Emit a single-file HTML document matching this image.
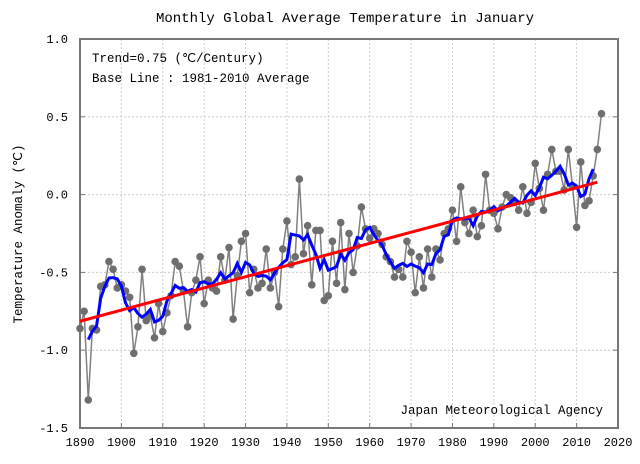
<!DOCTYPE html>
<html><head><meta charset="utf-8"><style>
body{margin:0;background:#fff;}
svg text{font-family:"Liberation Mono","DejaVu Sans Mono",monospace;fill:#000;}
</style></head><body>
<svg width="640" height="459">
<text x="345" y="22" text-anchor="middle" font-size="14">Monthly Global Average Temperature in January</text>
<g id="grid"></g>
<rect x="80" y="39" width="538" height="389" fill="none" stroke="#777" stroke-width="2"/>
<g id="axes"></g>
<g id="series"></g>
<text x="92" y="62" font-size="12.5">Trend=0.75 (℃/Century)</text>
<text x="92" y="82" font-size="12.5">Base Line : 1981-2010 Average</text>
<text x="603" y="414" text-anchor="end" font-size="12.5">Japan Meteorological Agency</text>
<text transform="translate(22,234) rotate(-90)" text-anchor="middle" font-size="12.5" font-family="Liberation Sans, sans-serif">Temperature Anomaly (℃)</text>
</svg>
<script>
const startYear = 1890;
const anomalies = [-0.86,-0.75,-1.32,-0.86,-0.87,-0.59,-0.58,-0.43,-0.48,-0.60,-0.58,-0.62,-0.66,-1.02,-0.85,-0.48,-0.81,-0.78,-0.92,-0.70,-0.88,-0.76,-0.65,-0.43,-0.46,-0.62,-0.85,-0.63,-0.55,-0.40,-0.70,-0.55,-0.60,-0.62,-0.40,-0.55,-0.34,-0.80,-0.52,-0.30,-0.25,-0.63,-0.48,-0.60,-0.57,-0.35,-0.60,-0.50,-0.72,-0.35,-0.17,-0.45,-0.40,0.10,-0.38,-0.20,-0.58,-0.23,-0.23,-0.68,-0.65,-0.30,-0.57,-0.18,-0.61,-0.25,-0.50,-0.33,-0.08,-0.22,-0.28,-0.22,-0.25,-0.32,-0.40,-0.43,-0.53,-0.48,-0.53,-0.30,-0.37,-0.63,-0.40,-0.60,-0.35,-0.53,-0.35,-0.42,-0.25,-0.22,-0.10,-0.30,0.05,-0.18,-0.25,-0.10,-0.27,-0.20,0.13,-0.10,-0.12,-0.22,-0.08,0.00,-0.02,-0.05,-0.10,0.05,-0.12,-0.05,0.20,0.04,-0.10,0.13,0.29,0.15,0.15,0.03,0.29,0.05,-0.21,0.21,-0.07,-0.04,0.12,0.29,0.52];
const xTicks = [1890,1900,1910,1920,1930,1940,1950,1960,1970,1980,1990,2000,2010,2020];
const yTicks = [1.0,0.5,0.0,-0.5,-1.0,-1.5];
const NS="http://www.w3.org/2000/svg";
const X0=80,X1=618,Y0=39,Y1=428;
const xs=y=>X0+(y-1890)/(2020-1890)*(X1-X0);
const ys=v=>Y0+(1.0-v)/(2.5)*(Y1-Y0);
function mk(t,a,p){const e=document.createElementNS(NS,t);for(const k in a)e.setAttribute(k,a[k]);p.appendChild(e);return e;}
const grid=document.getElementById('grid'),axes=document.getElementById('axes'),ser=document.getElementById('series');
xTicks.forEach(t=>{
  const x=xs(t);
  if(t>1890&&t<2020){const l=mk('line',{x1:x,x2:x,y1:Y0,y2:Y1,stroke:'#ccc','stroke-dasharray':'2,2'},grid);
  
  }
  mk('line',{x1:x,x2:x,y1:Y1,y2:Y1-5,stroke:'#777'},axes);
  const tx=mk('text',{x:x,y:446,'text-anchor':'middle','font-size':'12'},axes);tx.textContent=t;
  
  
});
yTicks.forEach(t=>{
  const y=ys(t);
  if(t<1&&t>-1.5){const l=mk('line',{x1:X0,x2:X1,y1:y,y2:y,stroke:'#ccc','stroke-dasharray':'2,2'},grid);
  
  }
  mk('line',{x1:X0,x2:X0+5,y1:y,y2:y,stroke:'#777'},axes);
  mk('line',{x1:X1,x2:X1-5,y1:y,y2:y,stroke:'#777'},axes);
  const tx=mk('text',{x:68,y:y+4,'text-anchor':'end','font-size':'12'},axes);tx.textContent=t.toFixed(1);
  
  
});
const years=anomalies.map((_,i)=>startYear+i);
const pl=mk('polyline',{points:anomalies.map((v,i)=>xs(years[i])+','+ys(v)).join(' '),fill:'none',stroke:'#808080','stroke-width':1.5},ser);


anomalies.forEach((v,i)=>{const c=mk('circle',{cx:xs(years[i]),cy:ys(v),r:3.8,fill:'#6e6e6e'},ser);

});
const rm=[];for(let i=2;i<anomalies.length-2;i++){let s=0;for(let k=-2;k<=2;k++)s+=anomalies[i+k];rm.push(xs(years[i])+','+ys(s/5));}
const bl=mk('polyline',{points:rm.join(' '),fill:'none',stroke:'#0000ff','stroke-width':3},ser);


const n=anomalies.length,mx=years.reduce((a,b)=>a+b)/n,my=anomalies.reduce((a,b)=>a+b)/n;
let sxy=0,sxx=0;years.forEach((y,i)=>{sxy+=(y-mx)*(anomalies[i]-my);sxx+=(y-mx)*(y-mx);});
const b=sxy/sxx,f=y=>my+b*(y-mx);
const tl=mk('line',{x1:xs(years[0]),y1:ys(f(years[0])),x2:xs(years[n-2]),y2:ys(f(years[n-2])),stroke:'#ff0000','stroke-width':3},ser);


</script>
</body></html>
